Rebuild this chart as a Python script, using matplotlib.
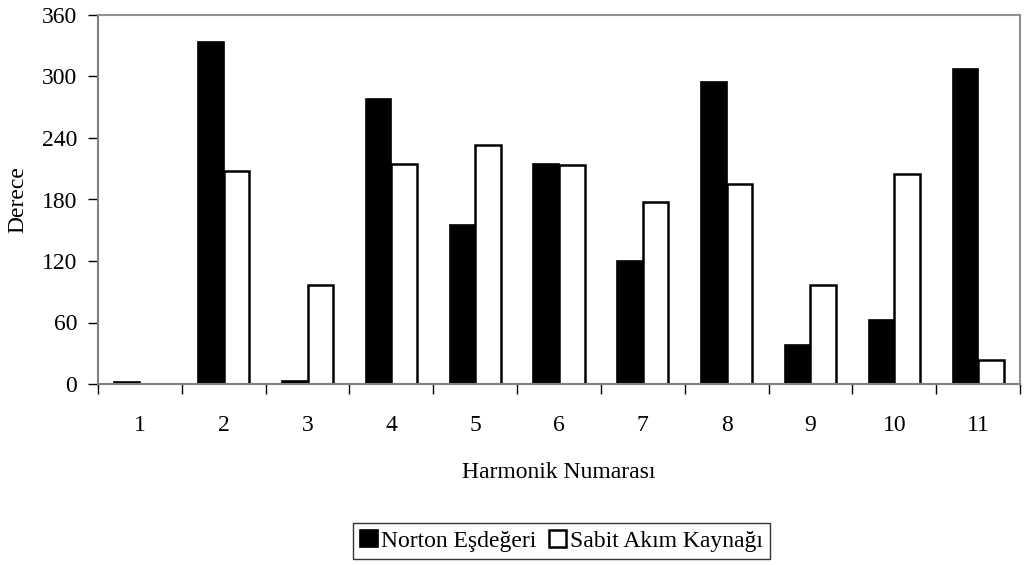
import matplotlib
matplotlib.use("Agg")
import matplotlib.pyplot as plt
import numpy as np
from matplotlib.ticker import FixedLocator

categories = ["1", "2", "3", "4", "5", "6", "7", "8", "9", "10", "11"]
norton = [1.5, 334, 3, 278, 155, 215, 120, 295, 38, 62, 307]
sabit = [0, 208, 97, 215, 233, 214, 178, 195, 97, 205, 23]
yticks = [0, 60, 120, 180, 240, 300, 360]

plt.rcParams['font.family'] = ['Liberation Serif', 'DejaVu Serif']

fig = plt.figure(figsize=(10.3, 5.65), dpi=100)
ax = fig.add_axes([98/1030, 1-384/565, (1020-98)/1030, (384-15)/565])

x = np.arange(len(categories))
w = 0.305
ax.bar(x - w/2, norton, width=w, color='black', edgecolor='black', linewidth=1.2, label='Norton Eşdeğeri')
ax.bar(x + w/2, sabit, width=w, color='white', edgecolor='black', linewidth=1.8, label='Sabit Akım Kaynağı')

ax.set_xlim(-0.5, len(categories) - 0.5)
ax.set_ylim(0, 360)
ax.set_yticks(yticks)
ax.set_xticks(x)
ax.set_xticklabels(categories)
ax.xaxis.set_minor_locator(FixedLocator(np.arange(-0.5, len(categories), 1.0)))
ax.tick_params(axis='x', which='major', length=0, labelsize=17, pad=22)
ax.tick_params(axis='x', which='minor', length=7, width=1, color='black', direction='out')
ax.tick_params(axis='y', which='major', length=7, width=1, color='black', direction='out', labelsize=17, pad=8)

for s in ['top', 'right']:
    ax.spines[s].set_color('#909090')
    ax.spines[s].set_linewidth(1.5)
ax.spines['left'].set_color('#808080')
ax.spines['left'].set_linewidth(1.5)
ax.spines['bottom'].set_color('#808080')
ax.spines['bottom'].set_linewidth(1.5)

ax.set_ylabel('Derece', fontsize=17, labelpad=10)
ax.set_xlabel('Harmonik Numarası', fontsize=17, labelpad=19)

leg = fig.legend(loc='center', bbox_to_anchor=(561.5/1030, 1-541/565), ncol=2, frameon=True,
                 fancybox=False, edgecolor='black', fontsize=17, handlelength=0.75, handleheight=0.75,
                 handletextpad=0.15, columnspacing=0.5, borderpad=0.3, borderaxespad=0)
leg.get_frame().set_linewidth(1.0)

fig.savefig('out.png', dpi=100)
